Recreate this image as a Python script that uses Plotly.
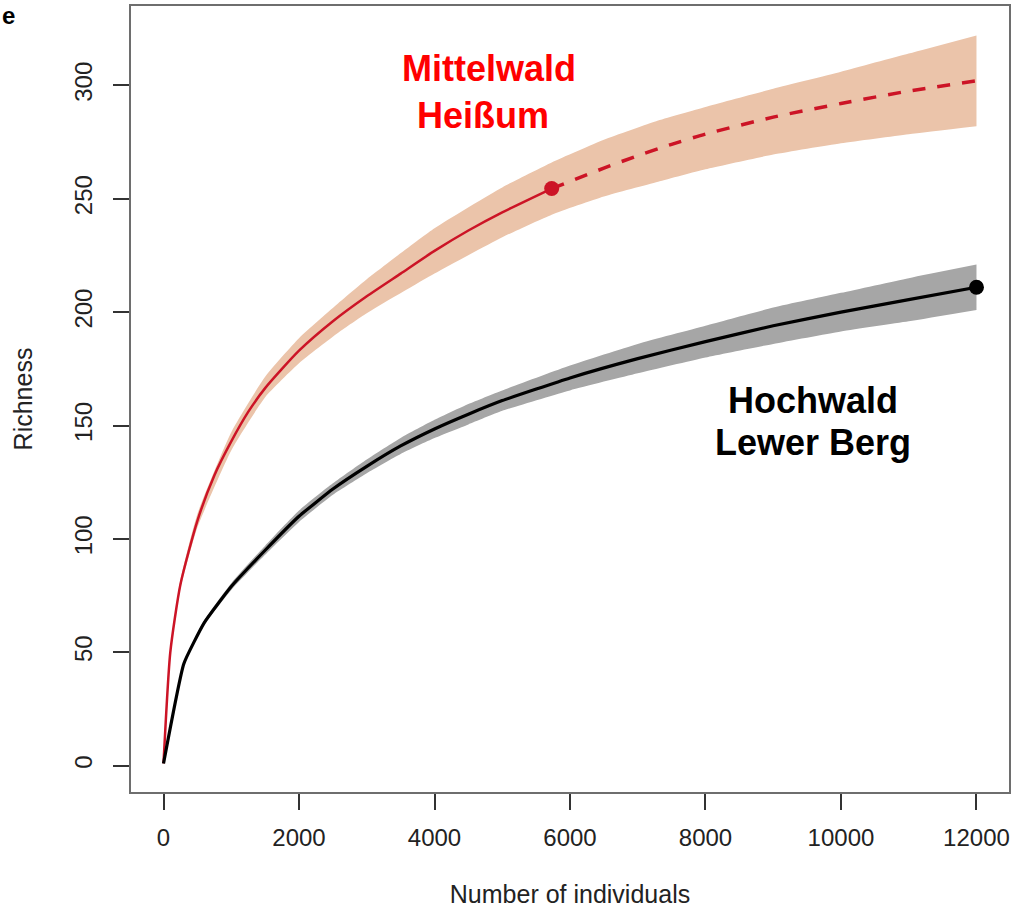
import plotly.graph_objects as go

# ---- data ----
# Mittelwald Heißum: observed (rarefaction) part
red_obs_x = [0, 100, 250, 500, 750, 1000, 1250, 1500, 2000, 2500, 3000, 3500, 4000, 4500, 5000, 5730]
red_obs_y = [1, 50, 80, 108, 128, 143, 156, 166.5, 183, 196, 207, 217, 227, 236, 244, 254.5]
# Mittelwald Heißum: extrapolated part
red_ext_x = [5730, 6500, 7000, 7500, 8000, 9000, 10000, 11000, 12000]
red_ext_y = [254.5, 263.5, 269, 274, 278.5, 286, 292, 297.5, 302]
# Mittelwald Heißum: confidence band
red_ci_x = [0, 100, 250, 500, 1000, 1500, 2000, 2583, 3000, 4000, 5000, 5730, 6500, 7300, 8000, 9000, 10000, 11000, 12000]
red_ci_lo = [1, 49, 78, 105, 139, 162.5, 177.5, 191, 199.5, 217, 233, 243, 251, 257.5, 263, 269.5, 274.5, 278.5, 282]
red_ci_hi = [1, 51, 82, 111, 147, 171.5, 188.5, 204, 214.5, 237, 255, 266, 276, 284.5, 290.5, 298.5, 306, 314, 322]

# Hochwald Lewer Berg
blk_x = [0, 300, 600, 1000, 1500, 2000, 2500, 3000, 3500, 4000, 4500, 5000, 6000, 7000, 8000, 9000, 10000, 11000, 12000]
blk_y = [1, 45, 63, 79, 95, 110, 122, 132, 141, 148.5, 155, 161, 171, 179.5, 187, 194, 200, 205.5, 211]
blk_lo = [1, 44.5, 62, 77.5, 93, 107.5, 119.5, 129, 137.5, 144.5, 150.5, 156.5, 165.5, 173, 180, 186, 191.5, 196, 201]
blk_hi = [1, 45.5, 64, 80.5, 97, 112.5, 124.5, 135, 144.5, 152.5, 159.5, 165.5, 176.5, 186, 194, 202, 208.5, 215, 221]

# reference sample points
red_ref = (5730, 254.5)
blk_ref = (12000, 211)

x_ticks = [0, 2000, 4000, 6000, 8000, 10000, 12000]
y_ticks = [0, 50, 100, 150, 200, 250, 300]

RED = "#CC1426"
RED_BAND = "#EBC4AA"
GRAY_BAND = "#A6A6A6"

fig = go.Figure()


def band(xs, lo, hi, color):
    fig.add_trace(go.Scatter(x=xs, y=lo, mode="lines",
                             line=dict(width=0, shape="spline", smoothing=0.5),
                             hoverinfo="skip", showlegend=False))
    fig.add_trace(go.Scatter(x=xs, y=hi, mode="lines", fill="tonexty", fillcolor=color,
                             line=dict(width=0, shape="spline", smoothing=0.5),
                             hoverinfo="skip", showlegend=False))


band(red_ci_x, red_ci_lo, red_ci_hi, RED_BAND)
band(blk_x, blk_lo, blk_hi, GRAY_BAND)

fig.add_trace(go.Scatter(x=red_obs_x, y=red_obs_y, mode="lines",
                         line=dict(color=RED, width=2.5, shape="spline", smoothing=0.6),
                         showlegend=False))
fig.add_trace(go.Scatter(x=red_ext_x, y=red_ext_y, mode="lines",
                         line=dict(color=RED, width=3.5, dash="13px,12px", shape="spline", smoothing=0.6),
                         showlegend=False))
fig.add_trace(go.Scatter(x=blk_x, y=blk_y, mode="lines",
                         line=dict(color="black", width=3.2, shape="spline", smoothing=0.4),
                         showlegend=False))
fig.add_trace(go.Scatter(x=[red_ref[0]], y=[red_ref[1]], mode="markers",
                         marker=dict(color=RED, size=15), showlegend=False))
fig.add_trace(go.Scatter(x=[blk_ref[0]], y=[blk_ref[1]], mode="markers",
                         marker=dict(color="black", size=15), showlegend=False))

ann_font_red = dict(family="Liberation Sans, Arial", size=36, color="#FF0000")
ann_font_blk = dict(family="Liberation Sans, Arial", size=36, color="black")
annotations = [
    dict(x=4797, y=307.5, text="<b>Mittelwald</b>", font=ann_font_red),
    dict(x=4723, y=286.5, text="<b>Heißum</b>", font=ann_font_red),
    dict(x=9594, y=161, text="<b>Hochwald</b>", font=ann_font_blk),
    dict(x=9594, y=142.5, text="<b>Lewer Berg</b>", font=ann_font_blk),
]
for a in annotations:
    a.update(xref="x", yref="y", showarrow=False, xanchor="center", yanchor="middle")
# panel letter in the top-left corner
annotations.append(dict(x=0, y=1, xref="paper", yref="paper", xshift=-131, yshift=6,
                        text="<b>e</b>", showarrow=False, xanchor="left", yanchor="top",
                        font=dict(family="Liberation Sans, Arial", size=24, color="black")))

axis_font = dict(family="Liberation Sans, Arial", size=24, color="#222222")
title_font = dict(family="Liberation Sans, Arial", size=25, color="#222222")

fig.update_layout(
    width=1014, height=912,
    margin=dict(l=131, r=5, t=6, b=120, autoexpand=False),
    plot_bgcolor="white", paper_bgcolor="white",
    annotations=annotations,
    xaxis=dict(range=[-480, 12480], tickvals=x_ticks, ticktext=[str(v) for v in x_ticks],
               showgrid=False, zeroline=False, showline=True, mirror=True, automargin=False,
               linecolor="#6E6E6E", linewidth=2, ticks="outside", ticklen=16,
               tickcolor="#333333", tickwidth=1.5, tickfont=axis_font, ticklabelstandoff=7,
               title=dict(text="Number of individuals", font=title_font, standoff=36)),
    yaxis=dict(range=[-11.6, 335], tickvals=y_ticks, ticktext=[str(v) for v in y_ticks],
               showgrid=False, zeroline=False, showline=True, mirror=True, automargin=False,
               linecolor="#6E6E6E", linewidth=2, ticks="outside", ticklen=16,
               tickcolor="#333333", tickwidth=1.5, tickfont=axis_font, tickangle=-90,
               ticklabelstandoff=11,
               title=dict(text="Richness", font=title_font, standoff=31)),
)

fig.write_html("out.html",
               config={"displayModeBar": False},
               post_script="document.body.style.margin='0px';"
                           "document.body.style.overflow='hidden';")
